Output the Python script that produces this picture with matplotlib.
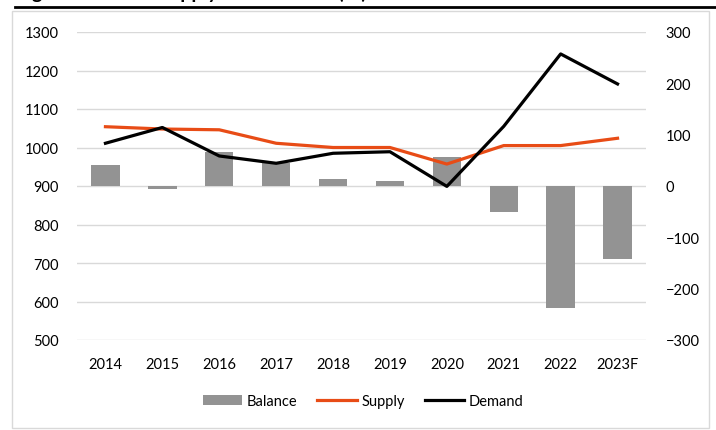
import numpy as np
import matplotlib
matplotlib.use("Agg")
import matplotlib.pyplot as plt
from matplotlib.patches import Rectangle
from matplotlib.lines import Line2D

# values
years = ['2014', '2015', '2016', '2017', '2018', '2019', '2020', '2021', '2022', '2023F']
balance = [41, -6, 67, 44, 13, 9, 56, -51, -237, -142]
supply = [1054, 1048, 1046, 1011, 1000, 1000, 957, 1005, 1005, 1024]
demand = [1011, 1052, 978, 959, 985, 989, 899, 1055, 1243, 1165]

left_ticks = list(range(500, 1301, 100))
right_ticks = list(range(-300, 301, 100))

bar_color = '#939393'
supply_color = '#E84C16'
demand_color = '#000000'
grid_color = '#D9D9D9'

plt.rcParams['font.family'] = ['Lato', 'DejaVu Sans']
fs = 10.5

W, H = 716, 431
fig = plt.figure(figsize=(W / 100, H / 100), dpi=100)

# outer chart border and the title rule above it
fig.patches.append(Rectangle((12 / W, 1 - 429 / H), 697 / W, 417 / H,
                             transform=fig.transFigure, fill=False,
                             edgecolor='#D9D9D9', lw=1))
fig.add_artist(Line2D([15 / W, 1.0], [1 - 7.5 / H, 1 - 7.5 / H],
                      transform=fig.transFigure, color='black', lw=2))
# title, cut off at the top edge like in the source (only descenders show)
fig.text(16 / W, 1 + 1.0 / H, 'Figure 6: Global Supply and Demand (kt)',
         fontsize=14, fontweight='bold', ha='left', va='baseline')

x = np.arange(len(years))
ax = fig.add_axes([77 / W, 1 - 341 / H, (646 - 77) / W, (341 - 33) / H])
ax.set_xlim(-0.5, len(years) - 0.5)
ax.set_ylim(500, 1300)
ax.set_yticks(left_ticks)
ax.set_xticks(x)
ax.set_xticklabels(years)
ax.grid(axis='y', color=grid_color, lw=1)
ax.set_axisbelow(True)
ax.tick_params(axis='y', length=0, pad=13.5, labelsize=fs, colors='#000000')
ax.tick_params(axis='x', length=0, pad=12, labelsize=fs)
for s in ax.spines.values():
    s.set_visible(False)

# balance bars on the right axis
ax2 = ax.twinx()
ax2.set_ylim(-300, 300)
ax2.set_yticks(right_ticks)
bars = ax2.bar(x, balance, width=0.5, color=bar_color, label='Balance')
ax2.tick_params(axis='y', length=0, pad=14, labelsize=fs)
for s in ax2.spines.values():
    s.set_visible(False)

# lines on a third axis with the left scale so they sit above the bars
ax3 = ax.twinx()
ax3.set_ylim(500, 1300)
l1, = ax3.plot(x, supply, color=supply_color, lw=2.3, label='Supply')
l2, = ax3.plot(x, demand, color=demand_color, lw=2.3, label='Demand')
ax3.set_yticks([])
for s in ax3.spines.values():
    s.set_visible(False)

fig.legend(handles=[bars, l1, l2], labels=['Balance', 'Supply', 'Demand'],
           loc='center', bbox_to_anchor=(363 / W, 1 - 402 / H), ncol=3,
           frameon=False, fontsize=fs, handlelength=2.7, handletextpad=0.3,
           columnspacing=1.4, borderaxespad=0, borderpad=0)

fig.savefig('out.png', dpi=100)
